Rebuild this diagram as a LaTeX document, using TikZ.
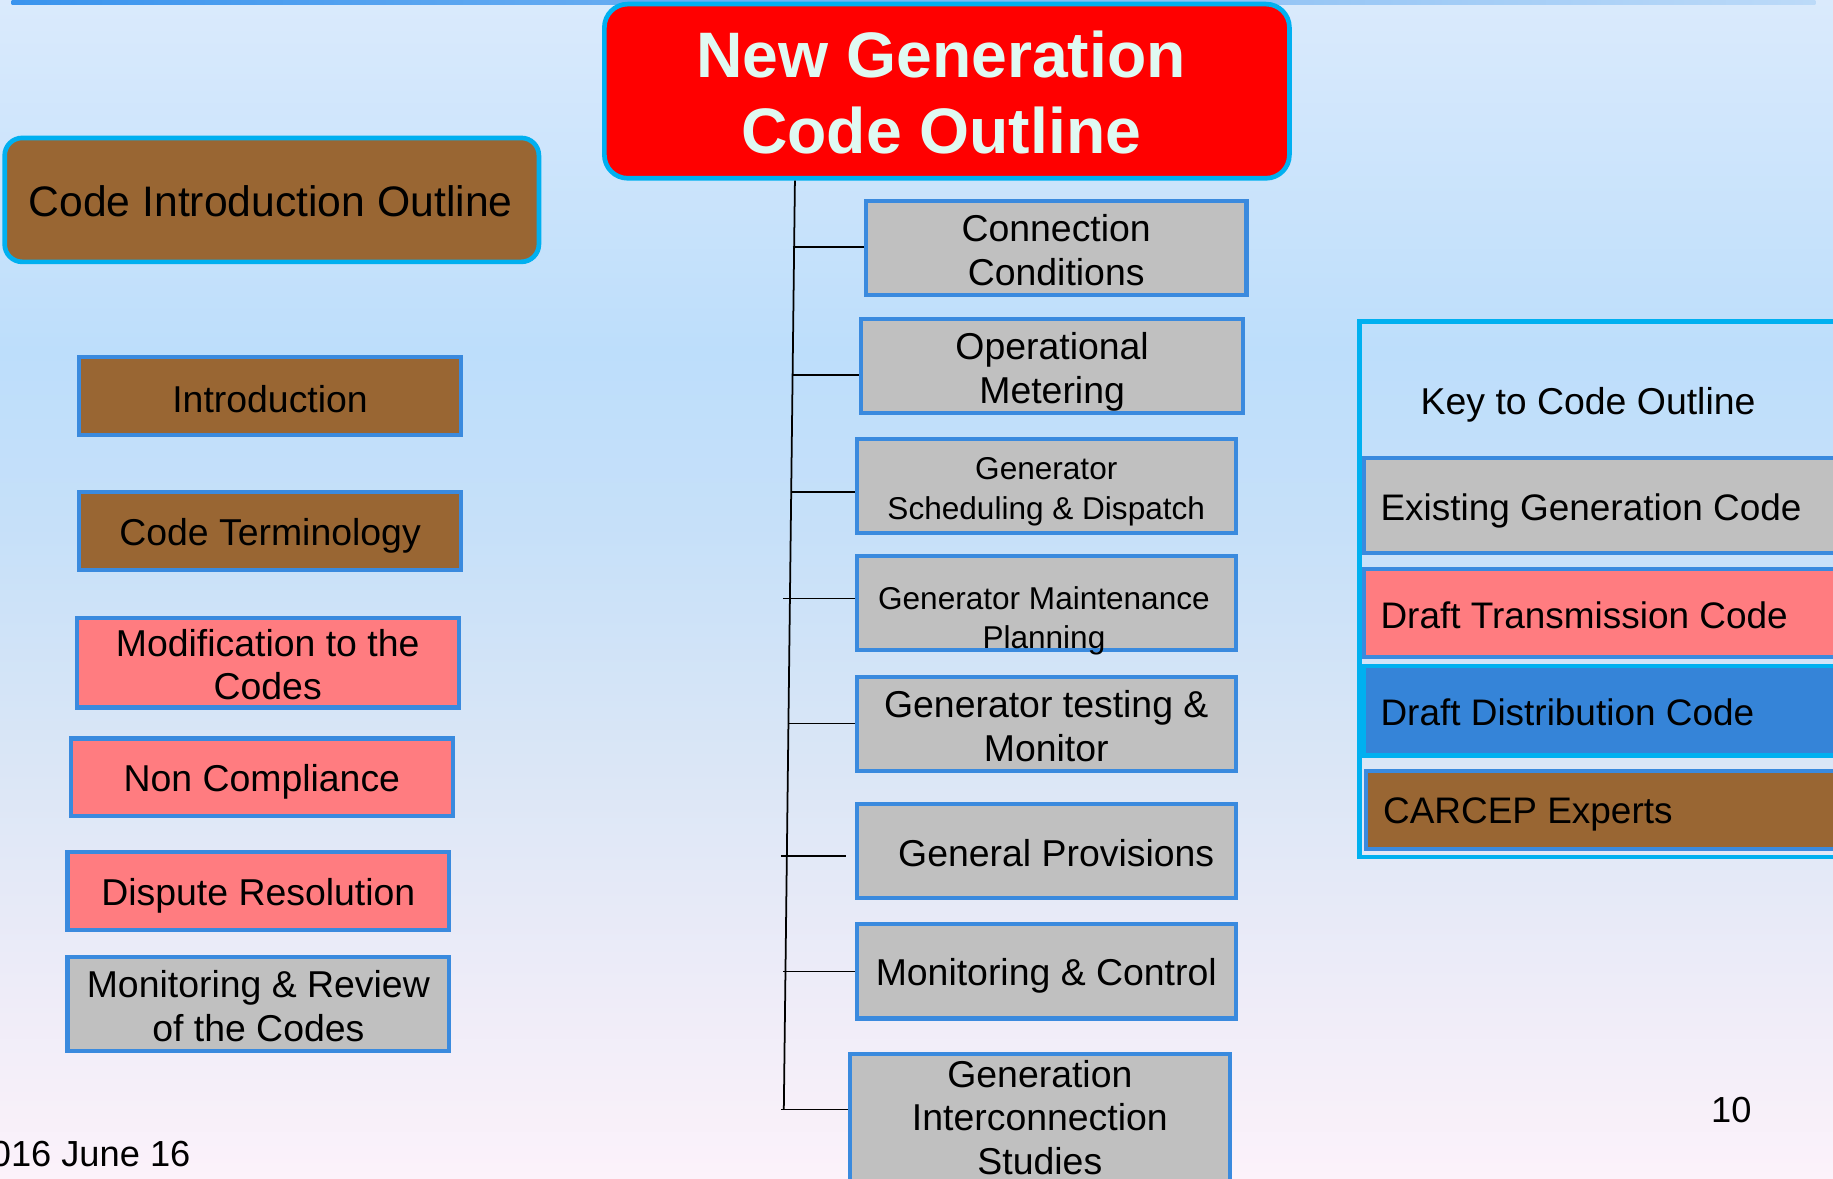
\documentclass[tikz,border=0pt]{standalone}
\usepackage{fontspec}
\setmainfont{Liberation Sans}
\usetikzlibrary{calc}
\definecolor{bgA}{RGB}{218,234,252}
\definecolor{bgB}{RGB}{189,222,251}
\definecolor{bgC}{RGB}{198,224,249}
\definecolor{bgD}{RGB}{218,230,246}
\definecolor{bgE}{RGB}{238,236,248}
\definecolor{bgF}{RGB}{252,242,250}
\definecolor{barL}{RGB}{58,148,238}
\definecolor{barR}{RGB}{188,218,248}
\definecolor{titlered}{RGB}{255,0,0}
\definecolor{cyanb}{RGB}{0,176,240}
\definecolor{titletext}{RGB}{224,249,242}
\definecolor{brownf}{RGB}{153,102,51}
\definecolor{pinkf}{RGB}{255,124,128}
\definecolor{grayf}{RGB}{192,192,192}
\definecolor{blueb}{RGB}{58,138,222}
\definecolor{bluef}{RGB}{53,132,216}
\pgfdeclareverticalshading{bgshade}{100bp}{color(0bp)=(bgF); color(25bp)=(bgF); color(32.9bp)=(bgE); color(42.8bp)=(bgD); color(52.7bp)=(bgC); color(60.1bp)=(bgB); color(75bp)=(bgA); color(100bp)=(bgA)}
\begin{document}
\begin{tikzpicture}[x=1pt,y=-1pt,
  conn/.style={draw=black, line width=1.5pt},
  cbox/.style={draw=blueb, line width=3.5pt, inner sep=0pt},
  brownbox/.style={cbox, fill=brownf},
  pinkbox/.style={cbox, fill=pinkf},
  graybox/.style={cbox, fill=grayf},
  lbl/.style={inner sep=0pt, align=center, font=\fontsize{32}{37.5}\selectfont},
  slbl/.style={lbl, font=\fontsize{27}{34}\selectfont},
  keyrow/.style={draw=blueb, line width=3.5pt, anchor=west, text width=392pt, align=left, inner xsep=16pt, inner ysep=0pt, font=\fontsize{31.6}{38}\selectfont}
]
\useasboundingbox (0,0) rectangle (1568,1008);
\shade[shading=bgshade] (0,0) rectangle (1568,1008);
\shade[left color=barL, right color=barR] (10,0) rectangle (1553,4);

% title
\node[draw=cyanb, line width=4pt, fill=titlered, rounded corners=20pt, minimum width=586pt, minimum height=149pt, inner sep=0pt] (title) at (810,78) {};
\node[lbl, text=titletext, font=\fontsize{55}{65.5}\bfseries\selectfont] (titlet) at ([xshift=-5pt,yshift=-1pt]title.center) {New Generation\\Code Outline};

% code introduction outline
\node[draw=cyanb, line width=4pt, fill=brownf, rounded corners=15pt, minimum width=457pt, minimum height=106pt, inner sep=0pt] (cio) at (232.5,171) {};
\node[lbl, font=\fontsize{36.5}{42}\selectfont] (ciot) at ([xshift=-1pt,yshift=-1pt]cio.center) {Code Introduction Outline};

% left column
\node[brownbox, minimum width=326.5pt, minimum height=66.5pt] (intro) at (231,339) {};
\node[lbl] (introt) at ([yshift=-2pt]intro.center) {Introduction};
\node[brownbox, minimum width=326.5pt, minimum height=66.5pt] (term) at (231,454) {};
\node[lbl] (termt) at ([yshift=-4pt]term.center) {Code Terminology};
\node[pinkbox, minimum width=326.5pt, minimum height=76.5pt] (modif) at (229,567) {};
\node[lbl] (modift) at ([yshift=-1.5pt]modif.center) {Modification to the\\Codes};
\node[pinkbox, minimum width=326.5pt, minimum height=66.5pt] (noncomp) at (224,665) {};
\node[lbl] (noncompt) at ([yshift=-4pt]noncomp.center) {Non Compliance};
\node[pinkbox, minimum width=326.5pt, minimum height=66.5pt] (dispute) at (221,762) {};
\node[lbl] (disputet) at ([yshift=-4pt]dispute.center) {Dispute Resolution};
\node[graybox, minimum width=326.5pt, minimum height=80.5pt] (monrev) at (221,859) {};
\node[lbl] (monrevt) at ([yshift=-2pt]monrev.center) {Monitoring \& Review\\of the Codes};

% centre column
\node[graybox, minimum width=325.5pt, minimum height=80.5pt] (cc) at (903.5,212) {};
\node[lbl] (cct) at ([yshift=-2pt]cc.center) {Connection\\Conditions};
\node[graybox, minimum width=326.5pt, minimum height=80.5pt] (op) at (900,313) {};
\node[lbl] (opt) at ([yshift=-5pt]op.center) {Operational\\Metering};
\node[graybox, minimum width=324.5pt, minimum height=80.5pt] (gs) at (895,416) {};
\node[slbl] (gst) at ([yshift=-4.5pt]gs.center) {Generator\\Scheduling \& Dispatch};
\node[graybox, minimum width=324.5pt, minimum height=80.5pt] (gm) at (895,516) {};
\node[slbl] (gmt) at ([yshift=-15pt,xshift=-2pt]gm.center) {Generator Maintenance\\Planning};
\node[graybox, minimum width=324.5pt, minimum height=80.5pt] (gt) at (895,619) {};
\node[lbl] (gtt) at ([yshift=-2pt]gt.center) {Generator testing \&\\Monitor};
\node[graybox, minimum width=324.5pt, minimum height=80.5pt] (gp) at (895,728) {};
\node[lbl] (gpt) at ([xshift=8.5pt,yshift=-2pt]gp.center) {General Provisions};
\node[graybox, minimum width=324.5pt, minimum height=80.5pt] (mc) at (895,831) {};
\node[lbl] (mct) at ([yshift=-4pt]mc.center) {Monitoring \& Control};
\node[graybox, minimum width=325.5pt, minimum height=108.5pt] (gi) at (889.5,956) {};
\node[lbl] (git) at ([yshift=0pt]gi.center) {Generation\\Interconnection\\Studies};

% connectors
\coordinate (tTop) at ([xshift=-130pt]title.south);
\coordinate (tBot) at (670.5,949);
\draw[conn] (tTop) -- (tBot);
\coordinate (k1) at (678,211);
\coordinate (k2) at (678,321);
\coordinate (k3) at (677,421);
\coordinate (k4) at (670,512);
\coordinate (k5) at (675,619);
\coordinate (k6) at (668,732);
\coordinate (k7) at (670,831);
\coordinate (k8) at (668,949);
\draw[conn] (k1) -- (k1 -| cc.west);
\draw[conn] (k2) -- (k2 -| op.west);
\draw[conn] (k3) -- (k3 -| gs.west);
\draw[conn] (k4) -- (k4 -| gm.west);
\draw[conn] (k5) -- (k5 -| gt.west);
\draw[conn, shorten >=7pt] (k6) -- (k6 -| gp.west);
\draw[conn] (k7) -- (k7 -| mc.west);
\draw[conn] (k8) -- (k8 -| gi.west);

% key
\node[draw=cyanb, line width=4pt, anchor=north west, minimum width=440pt, minimum height=458pt, inner sep=0pt] (keybox) at (1161,273) {};
\node[lbl] (keytitle) at (1358.5,346) {Key to Code Outline};
\node[keyrow, fill=grayf, minimum height=81.5pt] (kexist) at (1164.75,432.5) {};
\node[lbl, anchor=west, font=\fontsize{31.6}{38}\selectfont] (kexistt) at ([xshift=16pt,yshift=-5pt]kexist.west) {Existing Generation Code};
\node[keyrow, fill=pinkf, minimum height=75.5pt] (ktrans) at (1164.75,524.5) {};
\node[lbl, anchor=west, font=\fontsize{31.6}{38}\selectfont] (ktranst) at ([xshift=16pt,yshift=-2pt]ktrans.west) {Draft Transmission Code};
\node[keyrow, draw=cyanb, fill=bluef, minimum height=76.5pt] (kdist) at (1164.75,608) {};
\node[lbl, anchor=west, font=\fontsize{31.6}{38}\selectfont] (kdistt) at ([xshift=16pt,yshift=-1.5pt]kdist.west) {Draft Distribution Code};
\node[keyrow, fill=brownf, minimum height=66.5pt] (kcarcep) at (1167,693) {};
\node[lbl, anchor=west, font=\fontsize{31.6}{38}\selectfont] (kcarcept) at ([xshift=16pt,yshift=-4pt]kcarcep.west) {CARCEP Experts};

% footer
\node[lbl, anchor=west, font=\fontsize{31}{36}\selectfont] (date) at (-8,987.5) {016 June 16};
\node[lbl, font=\fontsize{31}{36}\selectfont] (page) at (1481,949.5) {10};
\end{tikzpicture}
\end{document}
